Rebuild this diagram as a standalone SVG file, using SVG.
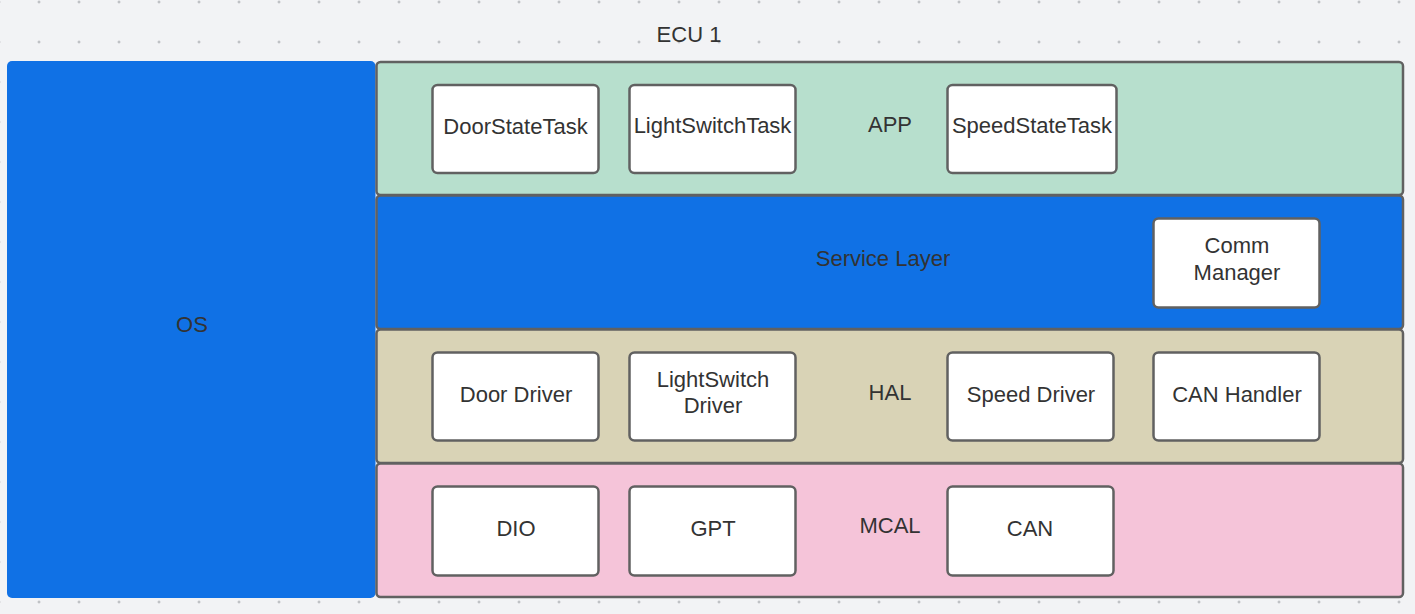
<svg xmlns="http://www.w3.org/2000/svg" width="1415" height="614" viewBox="0 0 1415 614">
  <defs>
    <pattern id="dots" x="19" y="-18" width="40" height="40" patternUnits="userSpaceOnUse">
      <path d="M18.5 20h3M20 18.5v3" stroke="#a3a6ab" stroke-width="0.8"/>
    </pattern>
  </defs>
  <style>
    text { font-family: "Liberation Sans", Arial, sans-serif; font-size: 22px; fill: #333333; text-anchor: middle; }
    .layer { stroke: #616161; stroke-width: 2.5; }
    .box { fill: #ffffff; stroke: #616161; stroke-width: 2.5; }
    .app { fill: #b7dfcd; }
    .svc { fill: #1071e5; }
    .hal { fill: #d9d3b6; }
    .mcal { fill: #f5c4d9; }
  </style>
  <rect width="1415" height="614" fill="#f2f3f5"/>
  <rect width="1415" height="614" fill="url(#dots)"/>

  <g id="ecu-title">
    <text x="689" y="42">ECU 1</text>
  </g>

  <g id="os">
    <rect x="7" y="61" width="368.5" height="537" rx="5" fill="#1071e5"/>
    <text x="192" y="332">OS</text>
  </g>

  <g id="layer-app">
    <rect class="layer app" x="376.5" y="62" width="1026.5" height="133" rx="4"/>
    <text x="890" y="132">APP</text>
  </g>
  <g id="layer-service">
    <rect class="layer svc" x="376.5" y="195.5" width="1026.5" height="133.5" rx="4"/>
    <text x="883" y="266">Service Layer</text>
  </g>
  <g id="layer-hal">
    <rect class="layer hal" x="376.5" y="329.5" width="1026.5" height="133.5" rx="4"/>
    <text x="890" y="400">HAL</text>
  </g>
  <g id="layer-mcal">
    <rect class="layer mcal" x="376.5" y="463.5" width="1026.5" height="133.5" rx="4"/>
    <text x="890" y="533">MCAL</text>
  </g>

  <g id="door-state-task">
    <rect class="box" x="432.5" y="85" width="166" height="88" rx="5"/>
    <text x="515.5" y="134">DoorStateTask</text>
  </g>
  <g id="light-switch-task">
    <rect class="box" x="629.5" y="85" width="166" height="88" rx="5"/>
    <text x="712.5" y="133">LightSwitchTask</text>
  </g>
  <g id="speed-state-task">
    <rect class="box" x="947.5" y="85" width="169" height="88" rx="5"/>
    <text x="1032" y="133">SpeedStateTask</text>
  </g>

  <g id="comm-manager">
    <rect class="box" x="1153.5" y="218.5" width="166" height="89" rx="5"/>
    <text x="1237" y="253">Comm</text>
    <text x="1237" y="280">Manager</text>
  </g>

  <g id="door-driver">
    <rect class="box" x="432.5" y="352.5" width="166" height="88" rx="5"/>
    <text x="516" y="402">Door Driver</text>
  </g>
  <g id="lightswitch-driver">
    <rect class="box" x="629.5" y="352.5" width="166" height="88" rx="5"/>
    <text x="713" y="387">LightSwitch</text>
    <text x="713" y="413">Driver</text>
  </g>
  <g id="speed-driver">
    <rect class="box" x="947.5" y="352.5" width="166" height="88" rx="5"/>
    <text x="1031" y="402">Speed Driver</text>
  </g>
  <g id="can-handler">
    <rect class="box" x="1153.5" y="352.5" width="166" height="88" rx="5"/>
    <text x="1237" y="402">CAN Handler</text>
  </g>

  <g id="dio">
    <rect class="box" x="432.5" y="486.5" width="166" height="89" rx="5"/>
    <text x="516" y="536">DIO</text>
  </g>
  <g id="gpt">
    <rect class="box" x="629.5" y="486.5" width="166" height="89" rx="5"/>
    <text x="713" y="536">GPT</text>
  </g>
  <g id="can">
    <rect class="box" x="947.5" y="486.5" width="166" height="89" rx="5"/>
    <text x="1030" y="536">CAN</text>
  </g>

  <g id="connectors"></g>
</svg>
